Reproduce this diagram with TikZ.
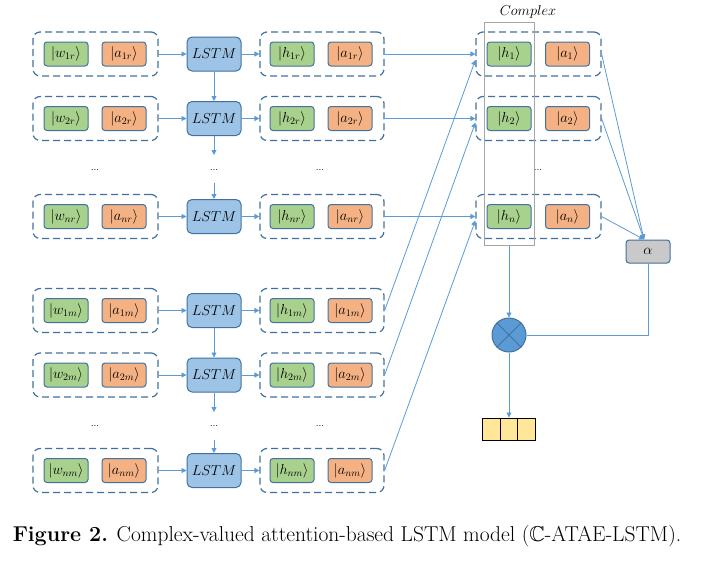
\documentclass[tikz,border=0pt]{standalone}
\usepackage{amssymb}
\usetikzlibrary{arrows.meta,calc}
\definecolor{bordblue}{HTML}{41719C}
\definecolor{arrblue}{HTML}{5B9BD5}
\definecolor{gfill}{HTML}{A9D18E}
\definecolor{ofill}{HTML}{F4B183}
\definecolor{lfill}{HTML}{9DC3E6}
\definecolor{afill}{HTML}{C9C9C9}
\definecolor{yfill}{HTML}{FFE699}
\definecolor{cgray}{HTML}{A6A6A6}
\tikzset{
  dbox/.style={draw=bordblue, line width=1.2pt, dash pattern=on 7pt off 4pt, rounded corners=7pt, minimum height=44pt, inner sep=0pt},
  gbox/.style={draw=bordblue, line width=1pt, fill=gfill, rounded corners=3pt, minimum width=44pt, minimum height=24pt, inner sep=0pt, font=\fontsize{14}{16}\selectfont},
  obox/.style={gbox, fill=ofill},
  lstmbox/.style={draw=bordblue, line width=1pt, fill=lfill, rounded corners=5pt, minimum width=54pt, minimum height=34pt, inner sep=0pt, font=\fontsize{14}{16}\selectfont},
  arr/.style={draw=arrblue, line width=0.8pt, -{Triangle[length=5pt,width=5pt]}},
  ln/.style={draw=arrblue, line width=0.8pt},
  dots/.style={inner sep=0pt, font=\fontsize{10}{11}\selectfont},
  cell/.style={draw=black, line width=1pt, fill=yfill, minimum width=17.7pt, minimum height=22pt, inner sep=0pt},
}
\begin{document}
\begin{tikzpicture}[x=1pt,y=-1pt]
\useasboundingbox (0,0) rectangle (707,563);

% ---------- left groups ----------
\foreach \nm/\yy/\lab in {r1/54/1r, r2/118.5/2r, rn/216.5/nr, m1/310.5/1m, m2/375/2m, mn/470.5/nm}{
  \node[dbox, minimum width=125pt] (L\nm) at (95.5,\yy) {};
  \node[gbox] (W\nm) at (66,\yy) {$|w_{\lab}\rangle$};
  \node[obox] (A\nm) at (124,\yy) {$|a_{\lab}\rangle$};
  \node[lstmbox] (S\nm) at (214,\yy) {$LSTM$};
  \node[dbox, minimum width=124pt] (R\nm) at (322,\yy) {};
  \node[gbox] (H\nm) at (292,\yy) {$|h_{\lab}\rangle$};
  \node[obox] (B\nm) at (350,\yy) {$|a_{\lab}\rangle$};
  \draw[arr] (L\nm.east) -- (S\nm.west);
  \draw[arr] (S\nm.east) -- (R\nm.west);
}

% dots
\foreach \xx in {95,214,320}{
  \node[dots] at (\xx,170) {...};
  \node[dots] at (\xx,426) {...};
}
\node[dots] at (538,170) {...};

% vertical LSTM connections
\coordinate (d1) at (214,155);
\coordinate (d2) at (214,183);
\coordinate (d3) at (214,412);
\coordinate (d4) at (214,440);
\draw[arr] (Sr1.south) -- (Sr2.north);
\draw[arr] (Sr2.south) -- (d1);
\draw[arr] (d2) -- (Srn.north);
\draw[arr] (Sm1.south) -- (Sm2.north);
\draw[arr] (Sm2.south) -- (d3);
\draw[arr] (d4) -- (Smn.north);

% ---------- complex column ----------
\node[font=\fontsize{15}{16}\selectfont, inner sep=0pt] (clab) at (528,12) {$Complex$};
\foreach \nm/\yy/\lab in {c1/54/1, c2/118.5/2, cn/216.5/n}{
  \node[dbox, minimum width=125pt] (K\nm) at (538.5,\yy) {};
  \node[gbox] (H\nm) at (509,\yy) {$|h_{\lab}\rangle$};
  \node[obox] (B\nm) at (567.5,\yy) {$|a_{\lab}\rangle$};
}
\node[draw=cgray, line width=1pt, minimum width=50pt, minimum height=223pt, inner sep=0pt] (grect) at (509,133.5) {};

% horizontal arrows from r rows
\draw[arr] (Rr1.east) -- (Kc1.west);
\draw[arr] (Rr2.east) -- (Kc2.west);
\draw[arr] (Rrn.east) -- (Kcn.west);
% diagonal arrows from m rows
\draw[arr] (Rm1.east) -- ($(Kc1.west)+(0,6)$);
\draw[arr] (Rm2.east) -- ($(Kc2.west)+(0,4)$);
\draw[arr] (Rmn.east) -- ($(Kcn.west)+(0,4)$);

% alpha
\node[draw=bordblue, line width=1pt, fill=afill, rounded corners=3pt, minimum width=44pt, minimum height=23pt, inner sep=0pt, font=\fontsize{14}{16}\selectfont] (alpha) at (648,251.5) {$\alpha$};
\draw[arr] (Kc1.east) -- ($(alpha.north)+(-4,0)$);
\draw[arr] (Kc2.east) -- ($(alpha.north)+(-4,0)$);
\draw[arr] (Kcn.east) -- ($(alpha.north)+(-4,0)$);

% multiplication circle
\node[circle, draw=bordblue, line width=1pt, fill=arrblue, minimum size=34pt, inner sep=0pt] (mult) at (509,335) {};
\draw[bordblue, line width=1pt] (mult.north west) -- (mult.south east);
\draw[bordblue, line width=1pt] (mult.north east) -- (mult.south west);
\draw[arr] (grect.south) -- (mult.north);
\draw[ln] (alpha.south) |- (mult.east);

% output array
\node[cell] (o1) at (491.3,429) {};
\node[cell] (o2) at (509,429) {};
\node[cell] (o3) at (526.7,429) {};
\draw[arr] (mult.south) -- (o2.north);

% caption
\node[inner sep=0pt, font=\fontsize{21.5}{24}\selectfont] (cap) at (347,536) {\textbf{Figure 2.} Complex-valued attention-based LSTM model ($\mathbb{C}$-ATAE-LSTM).};
\end{tikzpicture}
\end{document}
